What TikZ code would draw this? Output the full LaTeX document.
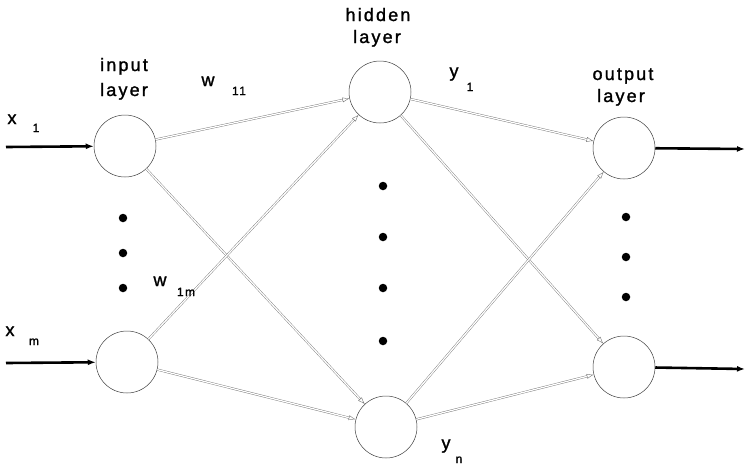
\documentclass[tikz,border=0pt]{standalone}
\usepackage{fontspec}
\setmainfont{Liberation Sans}[LetterSpace=12, FakeBold=1.4]
\usetikzlibrary{arrows.meta}
\tikzset{
  neuron/.style={circle, draw=black!75, line width=0.5pt, minimum size=62pt, inner sep=0pt},
  conn/.style={draw=black!55, line width=0.4pt, double=white, double distance=1.3pt,
    -{Latex[open,length=7pt,width=5pt]}},
  heavy/.style={draw=black, line width=2.6pt, -{Latex[length=8pt,width=6pt]}},
  lbl/.style={anchor=base, inner sep=0pt, font=\fontsize{18}{22}\selectfont},
  sublbl/.style={anchor=base, inner sep=0pt, font=\fontsize{12}{14}\selectfont},
  bigdot/.style={circle, fill=black, minimum size=8.5pt, inner sep=0pt}
}
\begin{document}
\begin{tikzpicture}[x=1pt,y=-1pt]
\useasboundingbox (0,0) rectangle (748,467);
% neurons
\node[neuron] (i1) at (125,146) {};
\node[neuron] (im) at (127,362) {};
\node[neuron] (h1) at (380,92) {};
\node[neuron] (hn) at (386,427) {};
\node[neuron] (o1) at (624,148) {};
\node[neuron] (on) at (624,367) {};
% dots
\node[bigdot] (di1) at (123,218) {};
\node[bigdot] (di2) at (123,253) {};
\node[bigdot] (di3) at (123,288) {};
\node[bigdot] (dh1) at (383,186) {};
\node[bigdot] (dh2) at (383,237) {};
\node[bigdot] (dh3) at (383,288) {};
\node[bigdot] (dh4) at (383,341) {};
\node[bigdot] (do1) at (626,217) {};
\node[bigdot] (do2) at (626,257) {};
\node[bigdot] (do3) at (626,297) {};
% external arrows
\coordinate (in1) at (6,147);
\coordinate (inm) at (6,363);
\coordinate (out1) at (745,149);
\coordinate (outn) at (745,369);
\draw[heavy] (in1) -- (i1);
\draw[heavy] (inm) -- (im);
\draw[heavy] (o1) -- (out1);
\draw[heavy] (on) -- (outn);
% connections
\draw[conn] (i1) -- (h1);
\draw[conn] (i1) -- (hn);
\draw[conn] (im) -- (h1);
\draw[conn] (im) -- (hn);
\draw[conn] (h1) -- (o1);
\draw[conn] (h1) -- (on);
\draw[conn] (hn) -- (o1);
\draw[conn] (hn) -- (on);
% labels
\node[lbl] (tin1) at (124,71) {input};
\node[lbl] (tin2) at (124,96) {layer};
\node[lbl] (thd1) at (378,21) {hidden};
\node[lbl] (thd2) at (377,43) {layer};
\node[lbl] (tou1) at (623,80) {output};
\node[lbl] (tou2) at (621,102) {layer};
\node[lbl] (x1) at (12,124) {x};
\node[sublbl] (x1s) at (36,132) {1};
\node[lbl] (xm) at (10,336) {x};
\node[sublbl] (xms) at (34,345) {m};
\node[lbl] (w11) at (208,86) {w};
\node[sublbl] (w11s) at (239,95) {11};
\node[lbl] (w1m) at (160,286) {w};
\node[sublbl] (w1ms) at (186,296) {1m};
\node[lbl] (y1) at (454,77) {y};
\node[sublbl] (y1s) at (470,91) {1};
\node[lbl] (yn) at (446,449) {y};
\node[sublbl] (yns) at (459,463) {n};
\end{tikzpicture}
\end{document}
